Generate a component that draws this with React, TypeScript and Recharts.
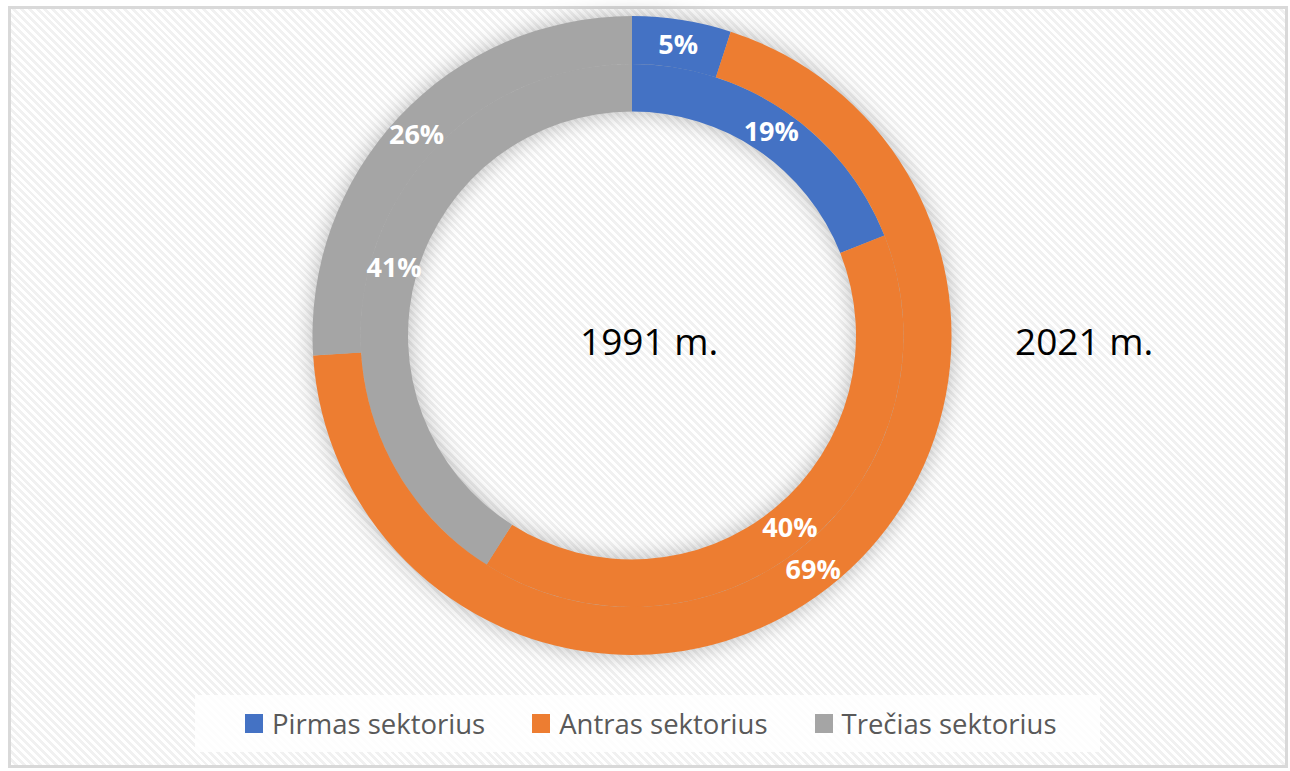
import { PieChart, Pie, Cell, Legend } from "recharts";

const sectors = ["Pirmas sektorius", "Antras sektorius", "Trečias sektorius"];
const colors = ["#4472c4", "#ed7d31", "#a5a5a5"];
const values1991 = [19, 40, 41];
const values2021 = [5, 69, 26];
const innerLabel = "1991 m.";
const outerLabel = "2021 m.";

const RAD = Math.PI / 180;

const inner = sectors.map((name, i) => ({ name, value: values1991[i] }));
const outer = sectors.map((name, i) => ({ name, value: values2021[i] }));
const shadow = [{ name: "shadow", value: values2021.reduce((s, v) => s + v, 0) }];

const renderLabel = (props: any) => {
  const { cx, cy, midAngle, innerRadius, outerRadius, value } = props;
  const r = (innerRadius + outerRadius) / 2;
  const x = cx + r * Math.cos(-midAngle * RAD);
  const y = cy + r * Math.sin(-midAngle * RAD);
  return (
    <text
      x={x}
      y={y}
      fill="#ffffff"
      textAnchor="middle"
      dominantBaseline="central"
      fontFamily="'Open Sans', sans-serif"
      fontWeight={700}
      fontSize={27}
    >
      {`${value}%`}
    </text>
  );
};

const renderLegend = () => (
  <div
    style={{
      display: "flex",
      alignItems: "center",
      width: 905,
      height: 57,
      paddingLeft: 50,
      background: "rgba(255,255,255,0.85)",
      fontFamily: "'Open Sans', sans-serif",
      fontSize: 27.5,
      color: "#595959",
      boxSizing: "border-box",
      whiteSpace: "nowrap",
    }}
  >
    {sectors.map((name, i) => (
      <div
        key={name}
        style={{ display: "flex", alignItems: "center", marginRight: 47, flexShrink: 0 }}
      >
        <span
          style={{
            width: 18,
            height: 19,
            background: colors[i],
            display: "inline-block",
            marginRight: 9,
            flexShrink: 0,
          }}
        />
        <span>{name}</span>
      </div>
    ))}
  </div>
);

export default function App() {
  return (
    <div style={{ position: "absolute", left: 0, top: 0, width: 1290, height: 771 }}>
      <div
        style={{
          position: "absolute",
          left: 8,
          top: 6,
          width: 1280,
          height: 762,
          boxSizing: "border-box",
          border: "3px solid #d9d9d9",
          backgroundColor: "#ffffff",
          backgroundImage:
            "repeating-linear-gradient(45deg, #ffffff 0px, #ffffff 2.8px, #f1f1f1 2.8px, #f1f1f1 5.6px)",
        }}
      />
      <div style={{ position: "absolute", left: 0, top: 0 }}>
        <PieChart width={1290} height={771} margin={{ top: 0, right: 0, bottom: 0, left: 0 }}>
          <Pie
            data={shadow}
            dataKey="value"
            cx={632}
            cy={335.5}
            innerRadius={224}
            outerRadius={319}
            startAngle={90}
            endAngle={-270}
            stroke="none"
            isAnimationActive={false}
            legendType="none"
          >
            <Cell fill="rgba(0,0,0,0.28)" style={{ filter: "blur(11px)" }} />
          </Pie>
          <Pie
            data={inner}
            dataKey="value"
            cx={632}
            cy={335.5}
            innerRadius={224}
            outerRadius={271.5}
            startAngle={90}
            endAngle={-270}
            stroke="none"
            label={renderLabel}
            labelLine={false}
            isAnimationActive={false}
          >
            {inner.map((d, i) => (
              <Cell key={d.name} fill={colors[i]} />
            ))}
          </Pie>
          <Pie
            data={outer}
            dataKey="value"
            cx={632}
            cy={335.5}
            innerRadius={271.5}
            outerRadius={319.5}
            startAngle={90}
            endAngle={-270}
            stroke="none"
            label={renderLabel}
            labelLine={false}
            isAnimationActive={false}
          >
            {outer.map((d, i) => (
              <Cell key={d.name} fill={colors[i]} />
            ))}
          </Pie>
          <Legend
            content={renderLegend}
            wrapperStyle={{ left: 195, top: 695, width: 905, height: 57, bottom: "auto" }}
          />
        </PieChart>
      </div>
      <div
        style={{
          position: "absolute",
          left: 580,
          top: 316,
          fontFamily: "'Open Sans', sans-serif",
          fontSize: 37,
          color: "#000000",
          lineHeight: "50px",
        }}
      >
        {innerLabel}
      </div>
      <div
        style={{
          position: "absolute",
          left: 1015,
          top: 316,
          fontFamily: "'Open Sans', sans-serif",
          fontSize: 37,
          color: "#000000",
          lineHeight: "50px",
        }}
      >
        {outerLabel}
      </div>
    </div>
  );
}
